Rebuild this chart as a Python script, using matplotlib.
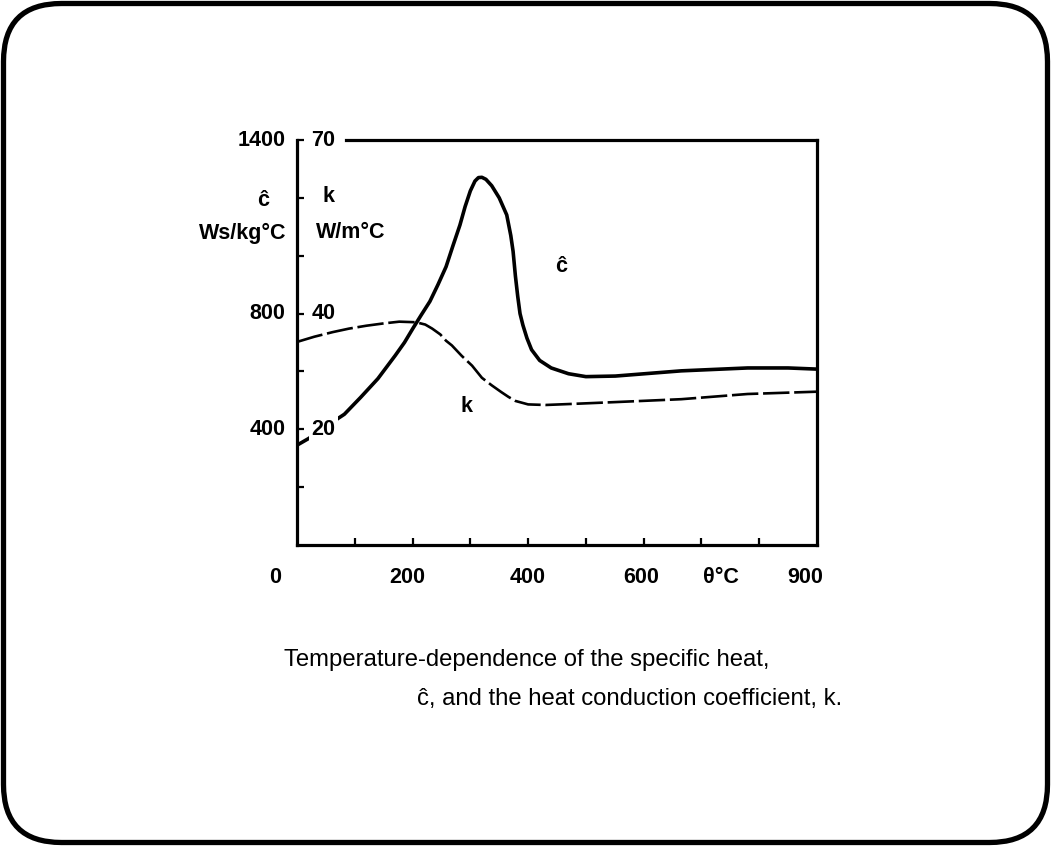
import matplotlib
matplotlib.use("Agg")
import matplotlib.pyplot as plt
from matplotlib.patches import FancyBboxPatch
from matplotlib.transforms import blended_transform_factory

# ---------------- data ----------------
temp_c = [0, 20, 40, 60, 82, 110, 140, 170, 186, 201, 215, 230, 244, 258, 270, 282, 291,
          300, 308, 314, 320, 327, 337, 350, 363, 370, 374, 378, 382, 386, 391, 398, 406,
          420, 440, 470, 500, 551, 665, 780, 850, 900]
c_hat = [345, 368, 395, 423, 452, 510, 575, 655, 700, 750, 795, 842, 900, 962, 1035,
         1106, 1170, 1224, 1258, 1270, 1271, 1264, 1242, 1200, 1141, 1070, 1015, 930, 860,
         800, 760, 715, 675, 638, 612, 592, 582, 584, 602, 612, 612, 608]

temp_k = [0, 30, 62, 90, 120, 150, 177, 206, 222, 234, 248, 258, 268, 285, 303, 320, 337,
          354, 366, 378, 400, 430, 480, 551, 665, 780, 900]
k_vals = [35.1, 36.0, 36.8, 37.4, 37.9, 38.3, 38.6, 38.5, 38.1, 37.4, 36.4, 35.3, 34.5,
          32.7, 31.0, 28.9, 27.6, 26.4, 25.6, 24.9, 24.3, 24.2, 24.4, 24.7, 25.2, 26.1, 26.5]

c_ticks = [200, 400, 600, 800, 1000, 1200, 1400]
c_ticklabels = ["400", "800", "1400"]
c_labelvals = [400, 800, 1400]
k_labelvals = [20, 40, 70]
k_to_c = 20.0  # 1 W/m°C corresponds to 20 Ws/kg°C on the shared axis

x_ticks = [100, 200, 300, 400, 500, 600, 700, 800]
x_labels = ["0", "200", "400", "600", "θ°C", "900"]
x_label_pos = [-38, 191, 400, 595, 733, 880]

caption1 = "Temperature-dependence of the specific heat,"
caption2 = "ĉ, and the heat conduction coefficient, k."

plt.rcParams['font.family'] = ['Liberation Sans', 'DejaVu Sans']

W, H = 1051, 846
fig = plt.figure(figsize=(W / 100, H / 100), dpi=100)

# background axes in pixel coordinates (image orientation)
bg = fig.add_axes([0, 0, 1, 1])
bg.set_xlim(0, W)
bg.set_ylim(H, 0)
bg.axis('off')
border = FancyBboxPatch((3.5, 3.5), W - 7, H - 7,
                        boxstyle="round,pad=0,rounding_size=58",
                        fill=False, lw=3.8, ec='black')
bg.add_patch(border)

# main axes
ax = fig.add_axes([297 / W, (H - 545) / H, 520 / W, 405 / H])
ax.set_facecolor('none')
ax.set_xlim(0, 900)
ax.set_ylim(0, 1400)
for s in ax.spines.values():
    s.set_linewidth(2.3)
ax.spines['top'].set_bounds(85, 900)

ax.set_xticks(x_ticks)
ax.set_yticks(c_ticks)
ax.tick_params(direction='in', length=5, width=1.6, labelbottom=False, labelleft=False)

# curves
ax.plot(temp_c, c_hat, color='black', lw=2.6, solid_capstyle='round',
        solid_joinstyle='round', zorder=3)
ax.plot(temp_k, [k * k_to_c for k in k_vals], color='black', lw=1.9,
        dashes=(10, 1.8), zorder=3)

bold = dict(fontsize=15.5, fontweight='bold', color='black')
trans_y = blended_transform_factory(ax.transAxes, ax.transData)

# left tick labels
for v, lab in zip(c_labelvals, c_ticklabels):
    ax.text(-0.022, v, lab, transform=trans_y, ha='right', va='center',
            clip_on=False, **bold)
# k tick labels (inside the frame)
for kv in k_labelvals:
    ax.text(0.028, kv * k_to_c, str(kv), transform=trans_y, ha='left', va='center',
            clip_on=False, zorder=10,
            bbox=dict(boxstyle='square,pad=0.12', fc='white', ec='none'), **bold)

# x labels
trans_x = blended_transform_factory(ax.transData, ax.transAxes)
for xp, lab in zip(x_label_pos, x_labels):
    ax.text(xp, -0.08, lab, transform=trans_x, ha='center', va='center',
            clip_on=False, **bold)

# axis unit labels (pixel coords on background)
bg.text(263, 200, "ĉ", ha='center', va='center', **bold)
bg.text(243, 233, "Ws/kg°C", ha='center', va='center', **bold)
bg.text(322, 196, "k", ha='left', va='center', **bold)
bg.text(316, 233, "W/m°C", ha='left', va='center', **bold)

# curve labels
bg.text(561, 266, "ĉ", ha='center', va='center', **bold)
bg.text(467, 407, "k", ha='center', va='center', **bold)

# caption
cap = dict(fontsize=17.2, color='black')
bg.text(527, 660, caption1, ha='center', va='center', **cap)
bg.text(417, 699, caption2, ha='left', va='center', **cap)

fig.savefig("out.png", dpi=100)
